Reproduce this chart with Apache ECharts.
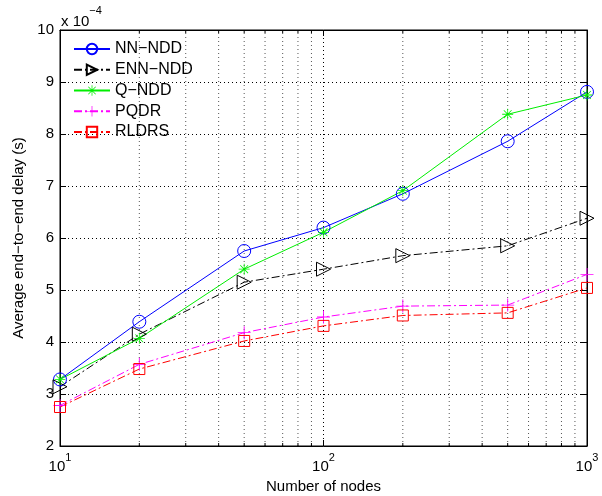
<!DOCTYPE html>
<html>
<head>
<meta charset="utf-8">
<script src="https://cdn.jsdelivr.net/npm/echarts@6/dist/echarts.min.js"></script>
<style>
html,body{margin:0;padding:0;background:#fff;}
#chart{width:602px;height:496px;}
</style>
</head>
<body>
<div id="chart"></div>
<script>
const nodes = [10, 20, 50, 100, 200, 500, 1000];
const nnNdd = [3.28, 4.39, 5.75, 6.20, 6.85, 7.86, 8.81];
const ennNdd = [3.14, 4.15, 5.15, 5.40, 5.66, 5.85, 6.38];
const qNdd = [3.28, 4.07, 5.40, 6.11, 6.91, 8.38, 8.75];
const pqdr = [2.78, 3.57, 4.18, 4.48, 4.69, 4.71, 5.30];
const rldrs = [2.75, 3.48, 4.02, 4.31, 4.51, 4.56, 5.04];
const seriesNames = ['NN\u2212NDD', 'ENN\u2212NDD', 'Q\u2212NDD', 'PQDR', 'RLDRS'];
const minorTicks = [20, 30, 40, 50, 60, 70, 80, 90, 200, 300, 400, 500, 600, 700, 800, 900];
const yTicks = [2, 3, 4, 5, 6, 7, 8, 9, 10];

const FONT = 'Liberation Sans, Arial, Helvetica, sans-serif';
const pairs = arr => nodes.map((n, i) => [n, arr[i]]);

const asterisk = 'path://M0 9.3H20V10.7H0Z M9.3 0H10.7V20H9.3Z M2.4 3.4L3.4 2.4L17.6 16.6L16.6 17.6Z M16.6 2.4L17.6 3.4L3.4 17.6L2.4 16.6Z';
const plus = 'path://M0 9.3H20V10.7H0Z M9.3 0H10.7V20H9.3Z';

const chart = echarts.init(document.getElementById('chart'), null, {renderer: 'canvas'});

function lineSeries(name, data, color, symbol, size, dash, hollow, rotate) {
  return {
    name: name,
    type: 'line',
    data: pairs(data),
    symbol: symbol,
    symbolSize: size,
    symbolRotate: rotate || 0,
    symbolKeepAspect: true,
    showAllSymbol: true,
    color: color,
    lineStyle: {color: color, width: 1, type: dash},
    itemStyle: hollow ? {color: 'rgba(0,0,0,0)', borderColor: color, borderWidth: 1} : {color: color, borderWidth: 0},
    emphasis: {disabled: true},
    animation: false,
    z: 3
  };
}

const option = {
  animation: false,
  backgroundColor: '#fff',
  textStyle: {fontFamily: FONT},
  grid: {left: 60, right: 15, top: 30, bottom: 50, show: true, borderColor: '#000', borderWidth: 1,
    backgroundColor: 'transparent', containLabel: false, outerBoundsMode: 'none'},
  legend: {
    orient: 'vertical',
    left: 73,
    top: 41,
    padding: 0,
    itemWidth: 36,
    itemHeight: 13,
    itemGap: 4.75,
    data: seriesNames,
    textStyle: {fontFamily: FONT, fontSize: 16, color: '#000'},
    selectedMode: false
  },
  graphic: [{
    type: 'text',
    left: 61,
    top: 5,
    style: {
      text: '{a|x 10}{b|\u22124}',
      rich: {
        a: {fontFamily: FONT, fontSize: 15, fill: '#000', verticalAlign: 'bottom', lineHeight: 24},
        b: {fontFamily: FONT, fontSize: 11, fill: '#000', verticalAlign: 'top', lineHeight: 24}
      }
    }
  }],
  xAxis: [{
    type: 'log',
    logBase: 10,
    min: 10,
    max: 1000,
    name: 'Number of nodes',
    nameLocation: 'middle',
    nameGap: 30,
    nameTextStyle: {fontFamily: FONT, fontSize: 15, color: '#000'},
    axisLine: {show: true, lineStyle: {color: '#000', width: 1}},
    axisTick: {show: true, inside: true, length: 6, lineStyle: {color: '#000'}},
    axisLabel: {
      margin: 6,
      color: '#000',
      formatter: v => '{b|10}{s|' + Math.round(Math.log10(v)) + '}',
      rich: {
        b: {fontFamily: FONT, fontSize: 15, color: '#000', verticalAlign: 'bottom', lineHeight: 22},
        s: {fontFamily: FONT, fontSize: 11, color: '#000', verticalAlign: 'top', lineHeight: 22}
      }
    },
    splitLine: {show: true, lineStyle: {color: '#000', width: 1, type: [1, 3]}}
  }, {
    type: 'log',
    logBase: 10,
    min: 10,
    max: 1000,
    position: 'top',
    axisLine: {show: true, lineStyle: {color: '#000'}},
    axisTick: {show: true, inside: true, length: 6, lineStyle: {color: '#000'}},
    axisLabel: {show: false},
    splitLine: {show: false}
  }],
  yAxis: [{
    type: 'value',
    min: 2,
    max: 10,
    interval: 1,
    name: 'Average end\u2212to\u2212end delay (s)',
    nameLocation: 'middle',
    nameGap: 27,
    nameTextStyle: {fontFamily: FONT, fontSize: 15, color: '#000'},
    axisLine: {show: true, lineStyle: {color: '#000'}},
    axisTick: {show: true, inside: true, length: 6, lineStyle: {color: '#000'}},
    axisLabel: {fontFamily: FONT, fontSize: 15, color: '#000', margin: 6},
    splitLine: {show: true, lineStyle: {color: '#000', width: 1, type: [1, 3]}}
  }, {
    type: 'value',
    min: 2,
    max: 10,
    interval: 1,
    position: 'right',
    axisLine: {show: true, lineStyle: {color: '#000'}},
    axisTick: {show: true, inside: true, length: 6, lineStyle: {color: '#000'}},
    axisLabel: {show: false},
    splitLine: {show: false}
  }],
  series: [
    {
      type: 'custom',
      name: 'minor',
      xAxisIndex: 0,
      yAxisIndex: 0,
      silent: true,
      z: 1,
      data: minorTicks.map(v => [v, yTicks[0]]),
      encode: {x: 0, y: 1},
      renderItem: function (params, api) {
        const v = api.value(0);
        const bottom = api.coord([v, yTicks[0]]);
        const top = api.coord([v, yTicks[yTicks.length - 1]]);
        return {
          type: 'group',
          children: [
            {type: 'line', shape: {x1: bottom[0], y1: bottom[1], x2: top[0], y2: top[1]},
              style: {stroke: '#555', lineWidth: 1, lineDash: [1, 3]}},
            {type: 'line', shape: {x1: bottom[0], y1: bottom[1], x2: bottom[0], y2: bottom[1] - 3},
              style: {stroke: '#000', lineWidth: 1}},
            {type: 'line', shape: {x1: top[0], y1: top[1], x2: top[0], y2: top[1] + 3},
              style: {stroke: '#000', lineWidth: 1}}
          ]
        };
      }
    },
    lineSeries(seriesNames[0], nnNdd, '#0000ff', 'circle', 13, 'solid', true),
    lineSeries(seriesNames[1], ennNdd, '#000000', 'triangle', 14, [8, 3, 2, 3], true, -90),
    lineSeries(seriesNames[2], qNdd, '#00ee00', asterisk, 11, 'solid', false),
    lineSeries(seriesNames[3], pqdr, '#ff00ff', plus, 13, [8, 3, 2, 3], false),
    lineSeries(seriesNames[4], rldrs, '#ff0000', 'rect', 11, [8, 3, 2, 3], true)
  ]
};
chart.setOption(option);
</script>
</body>
</html>
